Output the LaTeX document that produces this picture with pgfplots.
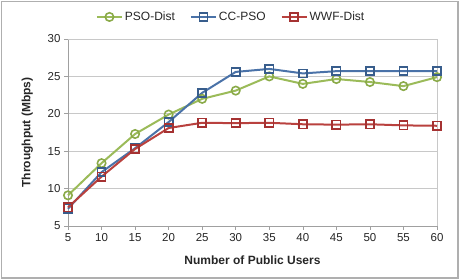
\documentclass[border=0pt]{standalone}
\usepackage{pgfplots}
\pgfplotsset{compat=1.18}
\usepackage{fontspec}
\setmainfont{Liberation Sans}

\definecolor{psoGreen}{RGB}{155,187,89}
\definecolor{psoGreenDk}{RGB}{138,170,72}
\definecolor{ccBlue}{RGB}{74,114,168}
\definecolor{ccBlueDk}{RGB}{56,93,140}
\definecolor{wwfRed}{RGB}{185,65,62}
\definecolor{wwfRedDk}{RGB}{165,50,50}
\definecolor{frameGray}{RGB}{175,175,175}
\definecolor{gridGray}{RGB}{200,200,200}
\definecolor{axisGray}{RGB}{160,160,160}

\begin{document}
\begin{tikzpicture}
  % outer chart frame
  \useasboundingbox (0pt,0pt) rectangle (462pt,280pt);
  \draw[frameGray, line width=1.2pt] (1.5pt,2pt) rectangle (458pt,278.5pt);

  \begin{axis}[
    at={(68pt,54pt)}, anchor=south west,
    scale only axis, width=369pt, height=187pt,
    xmin=5, xmax=60, ymin=5, ymax=30,
    xtick={5,10,...,60}, ytick={5,10,...,30},
    tick align=outside, tick pos=left,
    major tick length=4pt,
    every tick/.style={axisGray, line width=0.6pt},
    axis line style={axisGray, line width=0.6pt},
    ymajorgrids, grid style={gridGray, line width=0.6pt},
    separate axis lines,
    axis x line*=bottom, axis y line*=left,
    tick label style={font=\fontsize{11.5}{13}\selectfont, text=black!85},
    /pgf/number format/assume math mode=true,
    xlabel={\bfseries Number of Public Users},
    ylabel={\bfseries Throughput (Mbps)},
    label style={font=\fontsize{12}{14}\selectfont\bfseries, text=black!85},
    xlabel style={yshift=-7pt},
    ylabel style={yshift=8pt},
    legend columns=3,
    legend style={at={(0.442,1.118)}, anchor=center, draw=none, fill=none,
      font=\fontsize{12}{14}\selectfont, text=black!85,
      /tikz/every even column/.append style={column sep=13pt}},
    legend image code/.code={
      \draw[mark repeat=2,mark phase=2] plot coordinates {(0pt,0pt) (12.5pt,0pt) (25pt,0pt)};},
    every axis plot/.append style={line width=2pt},
    clip=false,
  ]
    % top and right edges of the plot box
    \draw[gridGray, line width=0.6pt] (axis cs:5,30) -- (axis cs:60,30) -- (axis cs:60,5);

    \addplot[color=psoGreen, mark=o,
      mark options={solid, draw=psoGreenDk, fill=none, line width=1.6pt, mark size=4.2pt}]
      coordinates {(5,9.1) (10,13.4) (15,17.3) (20,19.9) (25,22.0) (30,23.1)
                   (35,25.0) (40,24.0) (45,24.65) (50,24.25) (55,23.7) (60,24.9)};
    \addlegendentry{PSO-Dist}

    \addplot[color=ccBlue, mark=square,
      mark options={solid, draw=ccBlueDk, fill=none, line width=1.6pt, mark size=4.1pt}]
      coordinates {(5,7.3) (10,12.2) (15,15.4) (20,18.9) (25,22.8) (30,25.6)
                   (35,26.0) (40,25.4) (45,25.7) (50,25.7) (55,25.7) (60,25.7)};
    \addlegendentry{CC-PSO}

    \addplot[color=wwfRed, mark=square,
      mark options={solid, draw=wwfRedDk, fill=none, line width=1.6pt, mark size=4.1pt}]
      coordinates {(5,7.5) (10,11.6) (15,15.3) (20,18.1) (25,18.8) (30,18.75)
                   (35,18.8) (40,18.6) (45,18.55) (50,18.6) (55,18.45) (60,18.4)};
    \addlegendentry{WWF-Dist}
  \end{axis}
\end{tikzpicture}
\end{document}
